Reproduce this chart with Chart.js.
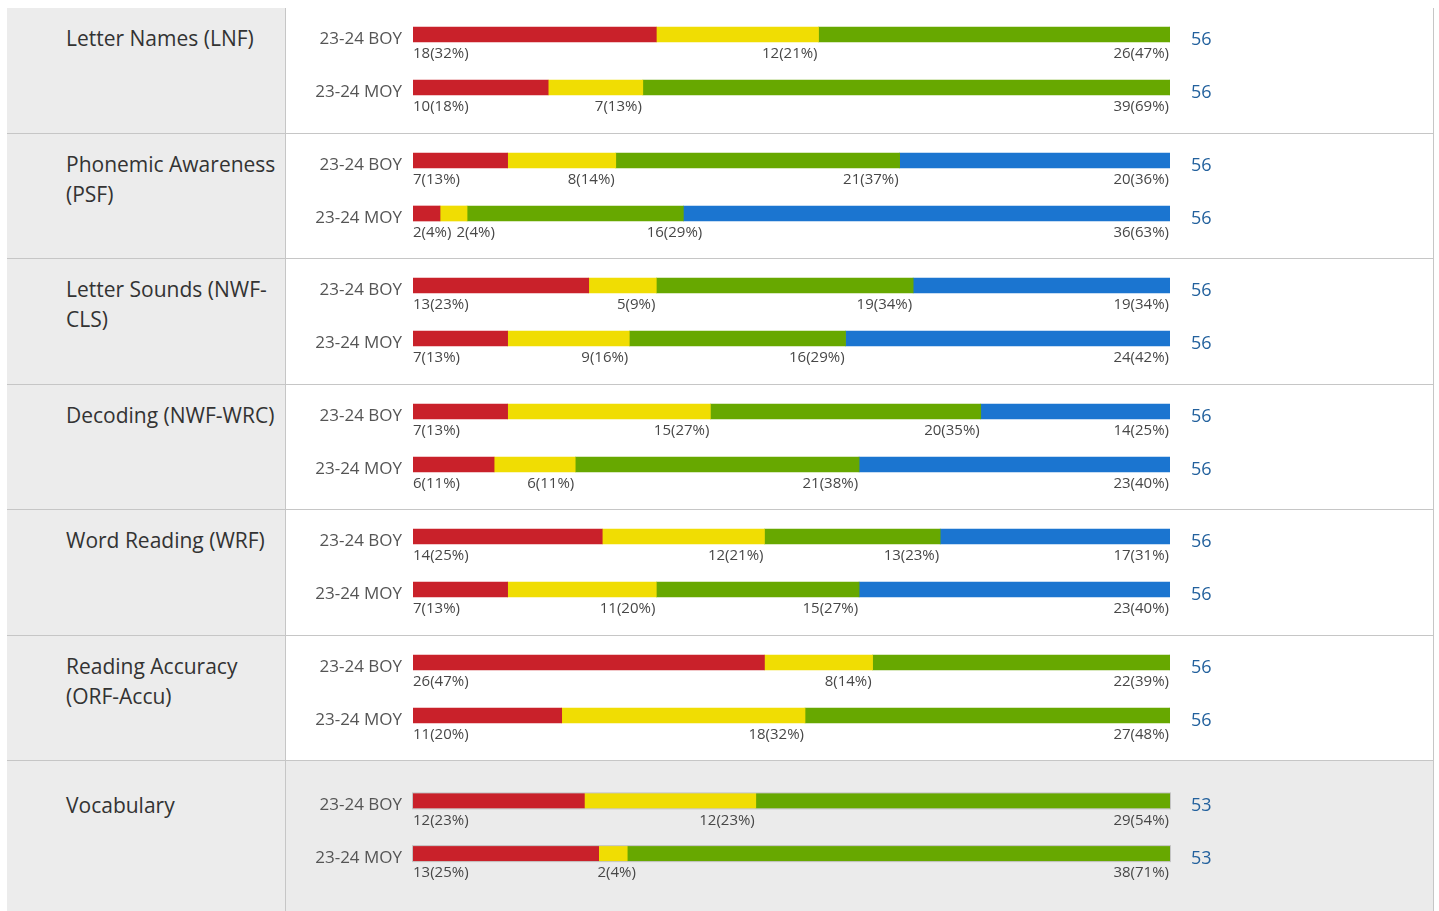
<!DOCTYPE html>
<html>
<head>
<meta charset="utf-8">
<title>Benchmark results</title>
<script src="https://cdn.jsdelivr.net/npm/chart.js@4.4.1/dist/chart.umd.min.js"></script>
<style>
  body { margin: 0; background: #fff; font-family: 'Open Sans', sans-serif; }
  #table { position: absolute; left: 7px; top: 8px; width: 1426px; border-right: 1px solid #c6c6c6; }
  .row { display: flex; height: 125.5px; box-sizing: border-box; border-bottom: 1px solid #c6c6c6; }
  .row.active { background: #ebebeb; height: 160px; border-bottom: none; }
  .name { width: 279px; flex: none; box-sizing: border-box; background: #ececec; border-right: 1px solid #c6c6c6;
          padding: 15px 4px 0 59px; font-size: 21px; line-height: 30px; color: #333; }
  .row.active .name { padding-top: 28.5px; }
  .plot { flex: 1; position: relative; }
  canvas { display: block; }
</style>
</head>
<body>
<div id="table"></div>
<script>
const categories = [
  'Letter Names (LNF)',
  'Phonemic Awareness (PSF)',
  'Letter Sounds (NWF-CLS)',
  'Decoding (NWF-WRC)',
  'Word Reading (WRF)',
  'Reading Accuracy (ORF-Accu)',
  'Vocabulary'
]
const periods = ['23-24 BOY', '23-24 MOY']

// student counts per category, [BOY, MOY]
const redCounts = [[18, 10], [7, 2], [13, 7], [7, 6], [14, 7], [26, 11], [12, 13]]
const yellowCounts = [[12, 7], [8, 2], [5, 9], [15, 6], [12, 11], [8, 18], [12, 2]]
const greenCounts = [[26, 39], [21, 16], [19, 16], [20, 21], [13, 15], [22, 27], [29, 38]]
const blueCounts = [[0, 0], [20, 36], [19, 24], [14, 23], [17, 23], [0, 0], [0, 0]]

// percentages as reported next to each count
const redPct = [[32, 18], [13, 4], [23, 13], [13, 11], [25, 13], [47, 20], [23, 25]]
const yellowPct = [[21, 13], [14, 4], [9, 16], [27, 11], [21, 20], [14, 32], [23, 4]]
const greenPct = [[47, 69], [37, 29], [34, 29], [35, 38], [23, 27], [39, 48], [54, 71]]
const bluePct = [[0, 0], [36, 63], [34, 42], [25, 40], [31, 40], [0, 0], [0, 0]]

const activeRow = 6

const COLORS = { red: '#c9212a', yellow: '#f0dd03', green: '#67a800', blue: '#1b75d0' }

const rowLabels = {
  id: 'rowLabels',
  afterDatasetsDraw (chart, args, opts) {
    const { ctx, chartArea } = chart
    ctx.save()
    chart.data.labels.forEach((period, b) => {
      const segs = []
      let total = 0
      chart.data.datasets.forEach((ds, d) => {
        const v = ds.data[b]
        if (!v) return
        total += v
        const el = chart.getDatasetMeta(d).data[b]
        const p = el.getProps(['x', 'y', 'base', 'height'], true)
        segs.push({ x0: p.base, x1: p.x, y: p.y, h: p.height, text: `${v}(${ds.pct[b]}%)` })
      })
      if (!segs.length) return
      const y = segs[0].y
      const h = segs[0].h

      if (opts.outline) {
        ctx.strokeStyle = '#c4c4c4'
        ctx.lineWidth = 1
        ctx.strokeRect(segs[0].x0 - 0.5, y - h / 2 - 0.5, segs[segs.length - 1].x1 - segs[0].x0 + 1, h + 1)
      }

      // period name left of the bar
      ctx.font = '17px "Open Sans"'
      ctx.fillStyle = '#555'
      ctx.textAlign = 'right'
      ctx.textBaseline = 'middle'
      ctx.fillText(period, chartArea.left - 11, y + 4.5)

      // total count right of the bar
      ctx.font = '18px "Open Sans"'
      ctx.fillStyle = '#23619d'
      ctx.textAlign = 'left'
      ctx.fillText(String(total), chartArea.right + 21, y + 5)

      // count labels under the segments, laid out like table cells:
      // narrow cells grow to fit their text, the rest shrink to make room
      ctx.font = '15px "Open Sans"'
      ctx.fillStyle = '#474747'
      const widths = segs.map(s => s.x1 - s.x0)
      const mins = segs.map(s => ctx.measureText(s.text).width + 3)
      const fixed = widths.map((w, k) => w < mins[k])
      let deficit = 0
      let free = 0
      widths.forEach((w, k) => {
        if (fixed[k]) deficit += mins[k] - w
        else free += w
      })
      let x = segs[0].x0
      const ly = y + h / 2 + 12
      segs.forEach((s, k) => {
        const w = fixed[k] ? mins[k] : widths[k] - deficit * widths[k] / free
        if (k === 0) {
          ctx.textAlign = 'left'
          ctx.fillText(s.text, x, ly)
        } else {
          ctx.textAlign = 'right'
          ctx.fillText(s.text, x + w - 1, ly)
        }
        x += w
      })
    })
    ctx.restore()
  }
}

const table = document.getElementById('table')

categories.forEach((name, i) => {
  const row = document.createElement('div')
  row.className = 'row' + (i === activeRow ? ' active' : '')
  const cell = document.createElement('div')
  cell.className = 'name'
  cell.textContent = name
  const plot = document.createElement('div')
  plot.className = 'plot'
  const canvas = document.createElement('canvas')
  const padTop = i === activeRow ? 13.5 : 0
  canvas.width = 1147
  canvas.height = 124 + padTop
  plot.appendChild(canvas)
  row.appendChild(cell)
  row.appendChild(plot)
  table.appendChild(row)

  const total = redCounts[i][0] + yellowCounts[i][0] + greenCounts[i][0] + blueCounts[i][0]

  new Chart(canvas, {
    type: 'bar',
    data: {
      labels: periods,
      datasets: [
        { label: 'red', data: redCounts[i], pct: redPct[i], backgroundColor: COLORS.red },
        { label: 'yellow', data: yellowCounts[i], pct: yellowPct[i], backgroundColor: COLORS.yellow },
        { label: 'green', data: greenCounts[i], pct: greenPct[i], backgroundColor: COLORS.green },
        { label: 'blue', data: blueCounts[i], pct: bluePct[i], backgroundColor: COLORS.blue }
      ]
    },
    options: {
      indexAxis: 'y',
      responsive: false,
      animation: false,
      devicePixelRatio: 1,
      layout: { padding: { left: 127, right: 263, top: padTop, bottom: 18 } },
      datasets: { bar: { barThickness: 15, borderWidth: 0 } },
      scales: {
        x: { stacked: true, min: 0, max: total, display: false },
        y: { stacked: true, display: false }
      },
      plugins: {
        legend: { display: false },
        tooltip: { enabled: false },
        rowLabels: { outline: i === activeRow }
      }
    },
    plugins: [rowLabels]
  })
})
</script>
</body>
</html>
